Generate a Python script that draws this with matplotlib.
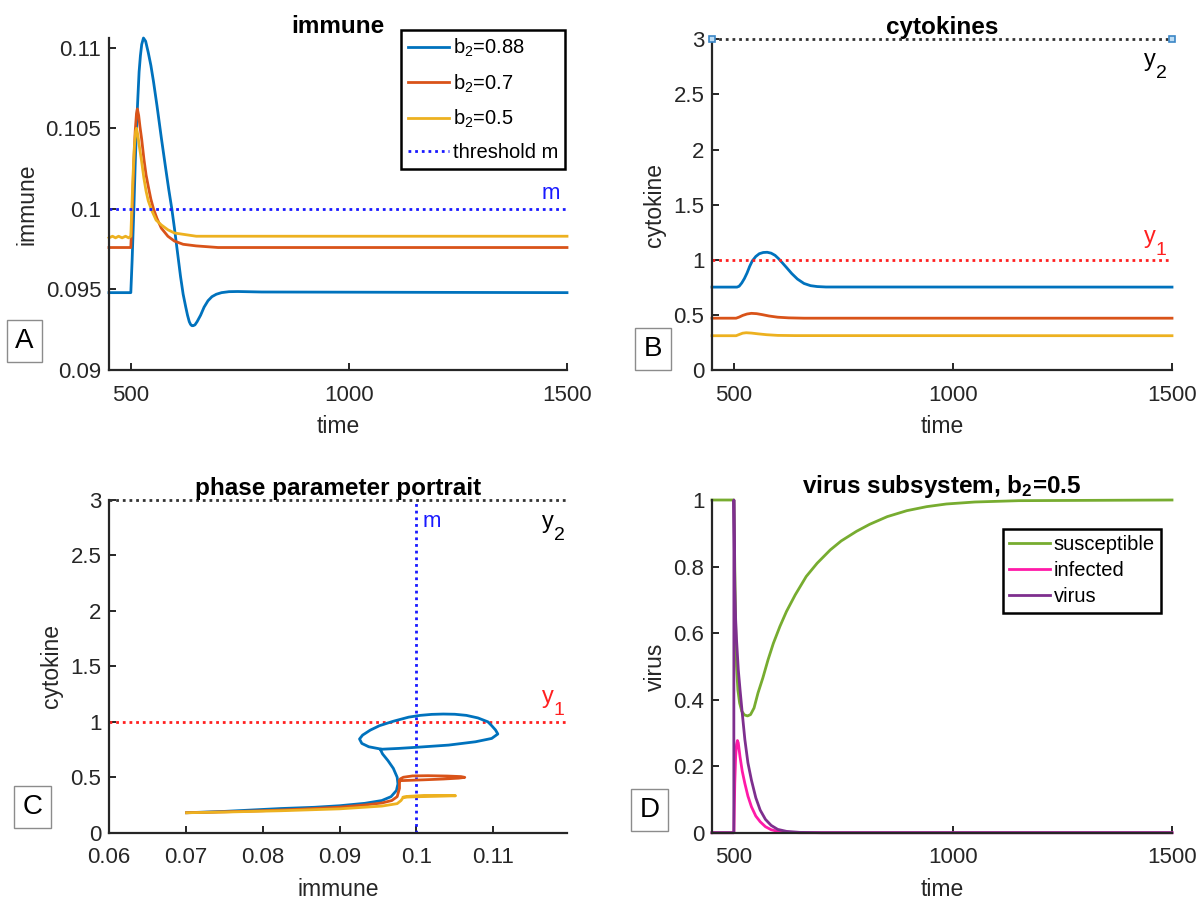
import matplotlib
matplotlib.use("Agg")
import matplotlib.pyplot as plt

plt.rcParams['font.family'] = ['Liberation Sans', 'DejaVu Sans']
plt.rcParams['mathtext.fontset'] = 'custom'
plt.rcParams['mathtext.rm'] = 'Liberation Sans'
plt.rcParams['mathtext.it'] = 'Liberation Sans:italic'
plt.rcParams['mathtext.bf'] = 'Liberation Sans:bold'

# ---------------- data ----------------
threshold_m = 0.1
y1_level = 1.0
y2_level = 3.0

series_labels = [r'b$_{\mathrm{2}}$=0.88', r'b$_{\mathrm{2}}$=0.7', r'b$_{\mathrm{2}}$=0.5']
series_colors = ['#0072BD', '#D95319', '#EDB120']

# Panel A: immune vs time
t_imm_088 = [450, 500, 503, 507, 510, 513, 516, 519, 522, 525, 529, 534, 540, 546, 552, 560, 570, 580,
             587, 594, 600, 607, 614, 620, 626, 630, 634, 637, 640, 643, 647, 652, 660, 668, 677, 686,
             696, 708, 725, 745, 800, 1500]
imm_088 = [0.0948, 0.0948, 0.0968, 0.1000, 0.1027, 0.1050, 0.1068, 0.1085, 0.1095, 0.1102, 0.1106, 0.1104,
           0.1097, 0.1089, 0.1079, 0.1064, 0.1044, 0.1025, 0.1012, 0.1000, 0.0988, 0.0973, 0.0958, 0.0947,
           0.0939, 0.0934, 0.0930, 0.09283, 0.09275, 0.09275, 0.0928, 0.0930, 0.0934, 0.0939, 0.0943,
           0.09455, 0.09470, 0.09480, 0.09486, 0.09487, 0.09484, 0.0948]

t_imm_07 = [450, 500, 502, 504, 507, 510, 513, 515, 518, 521, 525, 530, 535, 540, 546, 552, 560, 570,
            585, 600, 620, 650, 700, 1500]
imm_07 = [0.0976, 0.0976, 0.0990, 0.1005, 0.1030, 0.1048, 0.1059, 0.1062, 0.1058, 0.1051, 0.1043, 0.1031,
          0.1021, 0.1014, 0.1006, 0.1000, 0.0994, 0.0988, 0.0983, 0.0980, 0.0978, 0.0977, 0.0976, 0.0976]

t_imm_05 = [450, 458, 465, 472, 480, 488, 495, 500, 502, 505, 508, 511, 513, 516, 520, 525, 530, 535,
            540, 548, 558, 570, 585, 600, 625, 650, 700, 1500]
imm_05 = [0.0982, 0.0983, 0.0982, 0.0983, 0.0982, 0.0983, 0.0982, 0.0983, 0.0998, 0.1020, 0.1038, 0.1048,
          0.1050, 0.1046, 0.1038, 0.1029, 0.1019, 0.1011, 0.1005, 0.0999, 0.0993, 0.0990, 0.0987, 0.0985,
          0.0984, 0.0983, 0.0983, 0.0983]

# Panel B: cytokine vs time
t_cyt_088 = [450, 507, 512, 518, 524, 530, 536, 542, 550, 558, 567, 576, 585, 594, 602, 610, 620, 632,
             645, 660, 675, 690, 710, 1500]
cyt_088 = [0.752, 0.752, 0.760, 0.790, 0.830, 0.880, 0.940, 0.990, 1.030, 1.055, 1.066, 1.068, 1.060,
           1.040, 1.010, 0.975, 0.930, 0.875, 0.825, 0.785, 0.765, 0.757, 0.753, 0.752]

t_cyt_07 = [450, 505, 512, 520, 530, 540, 552, 565, 580, 600, 625, 660, 1500]
cyt_07 = [0.470, 0.470, 0.480, 0.495, 0.508, 0.514, 0.511, 0.502, 0.490, 0.479, 0.473, 0.470, 0.470]

t_cyt_05 = [450, 505, 512, 520, 528, 540, 555, 575, 600, 640, 1500]
cyt_05 = [0.311, 0.311, 0.322, 0.334, 0.338, 0.335, 0.328, 0.320, 0.314, 0.312, 0.311]

# Panel C: phase portrait (immune, cytokine)
ph_imm_088 = [0.0701, 0.0750, 0.0824, 0.0867, 0.0900, 0.0933, 0.0955, 0.0967, 0.0974, 0.0976, 0.0975,
              0.0970, 0.0963, 0.0956, 0.0953,
              0.0977, 0.1000, 0.1042, 0.1077, 0.1098, 0.1106, 0.1103, 0.1098, 0.1093, 0.1080, 0.1065,
              0.1050, 0.1035, 0.1020, 0.1005, 0.0990, 0.0970, 0.0952, 0.0940, 0.0930, 0.0926, 0.0929,
              0.0938, 0.0953]
ph_cyt_088 = [0.180, 0.192, 0.218, 0.229, 0.243, 0.265, 0.290, 0.325, 0.380, 0.440, 0.500,
              0.580, 0.650, 0.710, 0.752,
              0.760, 0.770, 0.790, 0.820, 0.850, 0.890, 0.926, 0.965, 1.000, 1.035, 1.058,
              1.068, 1.070, 1.067, 1.058, 1.042, 1.005, 0.965, 0.925, 0.880, 0.845, 0.805,
              0.775, 0.755]

ph_imm_07 = [0.0701, 0.0750, 0.0800, 0.0850, 0.0900, 0.0933, 0.0955, 0.0968, 0.0975, 0.0978, 0.0978,
             0.0978, 0.0990, 0.1010, 0.1035, 0.1055, 0.1063, 0.1058, 0.1040, 0.1015, 0.0995, 0.0983,
             0.0979, 0.0978]
ph_cyt_07 = [0.180, 0.188, 0.198, 0.212, 0.230, 0.250, 0.268, 0.290, 0.325, 0.400, 0.469,
             0.469, 0.472, 0.477, 0.484, 0.492, 0.499, 0.506, 0.511, 0.514, 0.512, 0.500,
             0.485, 0.470]

ph_imm_05 = [0.0701, 0.0750, 0.0824, 0.0900, 0.0955, 0.0975, 0.0980, 0.0983, 0.1000, 0.1030, 0.1051,
             0.1040, 0.1010, 0.0990, 0.0983]
ph_cyt_05 = [0.180, 0.186, 0.198, 0.215, 0.240, 0.262, 0.290, 0.320, 0.324, 0.329, 0.333,
             0.336, 0.336, 0.328, 0.320]

# Panel D: virus subsystem
t_sus = [450, 500, 502, 504, 506, 509, 513, 518, 524, 531, 538, 546, 555, 566, 578, 590, 605, 620, 640,
         665, 690, 720, 745, 780, 810, 850, 895, 940, 985, 1050, 1150, 1500]
susceptible = [1.0, 1.0, 0.80, 0.62, 0.50, 0.43, 0.39, 0.365, 0.354, 0.351, 0.355, 0.375, 0.420, 0.465,
               0.520, 0.569, 0.620, 0.665, 0.715, 0.770, 0.810, 0.850, 0.877, 0.906, 0.927, 0.950,
               0.968, 0.980, 0.988, 0.994, 0.998, 1.0]

t_inf = [450, 500, 502, 504, 506, 508, 510, 514, 519, 525, 532, 540, 550, 560, 572, 585, 600, 620, 650, 1500]
infected = [0.0, 0.0, 0.15, 0.23, 0.265, 0.277, 0.270, 0.228, 0.185, 0.148, 0.110, 0.078, 0.050, 0.033,
            0.018, 0.009, 0.004, 0.001, 0.0, 0.0]

t_vir = [450, 499.8, 500, 501, 502, 504, 506, 510, 514, 519, 525, 532, 540, 550, 560, 572, 585, 600,
         620, 650, 700, 1500]
virus = [0.0, 0.0, 1.0, 0.86, 0.74, 0.64, 0.58, 0.49, 0.43, 0.36, 0.28, 0.21, 0.158, 0.105, 0.068, 0.040,
         0.022, 0.010, 0.004, 0.001, 0.0, 0.0]

xticks_time = [500, 1000, 1500]
yticks_imm = [0.09, 0.095, 0.1, 0.105, 0.11]
yticklabels_imm = ['0.09', '0.095', '0.1', '0.105', '0.11']
yticks_cyt = [0, 0.5, 1, 1.5, 2, 2.5, 3]
yticklabels_cyt = ['0', '0.5', '1', '1.5', '2', '2.5', '3']
xticks_phase = [0.06, 0.07, 0.08, 0.09, 0.1, 0.11]
xticklabels_phase = ['0.06', '0.07', '0.08', '0.09', '0.1', '0.11']
yticks_vir = [0, 0.2, 0.4, 0.6, 0.8, 1]
yticklabels_vir = ['0', '0.2', '0.4', '0.6', '0.8', '1']

# ---------------- styling ----------------
W, H = 1199, 901
fig = plt.figure(figsize=(W / 100, H / 100), dpi=100)
AX_COL = '#262626'
TICK_FS = 16
LABEL_FS = 16.5
TITLE_FS = 17.5
LEG_FS = 14.5
LW = 2.0
DOT = (0, (1, 1.4))
BLUE_M = '#1a1aff'
RED_Y = '#ff2020'


def px_axes(left, right, top, bottom):
    return fig.add_axes([left / W, 1 - bottom / H, (right - left) / W, (bottom - top) / H])


def style(ax):
    for s in ['top', 'right']:
        ax.spines[s].set_visible(False)
    for s in ['left', 'bottom']:
        ax.spines[s].set_color(AX_COL)
        ax.spines[s].set_linewidth(1.6)
    ax.tick_params(direction='in', length=5, width=1.4, colors=AX_COL, labelsize=TICK_FS)
    ax.tick_params(axis='x', pad=10.5)
    ax.tick_params(axis='y', pad=5.5)


def labels(ax, xl, yl, title):
    ax.set_xlabel(xl, fontsize=LABEL_FS, color=AX_COL, labelpad=7)
    ax.set_ylabel(yl, fontsize=LABEL_FS, color=AX_COL, labelpad=5)
    ax.set_title(title, fontsize=TITLE_FS, fontweight='bold', pad=3)


def sub_text(ax, x, y, base, sub, color):
    ax.text(x, y, base, color=color, fontsize=17, ha='left', va='baseline')
    ax.annotate(sub, xy=(x, y), xycoords='data', xytext=(8.3, -8.5), textcoords='offset points',
                color=color, fontsize=14, ha='left', va='baseline')


def panel_letter(cx, cy, s):
    fig.text(cx / W, 1 - cy / H, s, fontsize=20, ha='center', va='center', color='black',
             bbox=dict(boxstyle='square,pad=0.3', fc='white', ec='#8c8c8c', lw=1.0))


# ---------------- Panel A ----------------
axA = px_axes(109, 567, 38, 370)
style(axA)
hA = []
for t, v, c, lab in [(t_imm_088, imm_088, series_colors[0], series_labels[0]),
                     (t_imm_07, imm_07, series_colors[1], series_labels[1]),
                     (t_imm_05, imm_05, series_colors[2], series_labels[2])]:
    hA.append(axA.plot(t, v, color=c, lw=LW, label=lab, clip_on=False)[0])
hm = axA.axhline(threshold_m, color=BLUE_M, lw=2.0, ls=DOT, label='threshold m')
axA.set_xlim(450, 1500)
axA.set_ylim(0.09, 0.1106)
axA.set_xticks(xticks_time)
axA.set_yticks(yticks_imm)
axA.set_yticklabels(yticklabels_imm)
labels(axA, 'time', 'immune', 'immune')
axA.text(1464, 0.10062, 'm', color=BLUE_M, fontsize=16, ha='center', va='baseline')
legA = axA.legend(handles=hA + [hm], loc='upper right', bbox_to_anchor=(0.996, 1.024),
                  borderaxespad=0, fontsize=LEG_FS, handlelength=2.0, handletextpad=0.2,
                  labelspacing=0.65, borderpad=0.35, fancybox=False, framealpha=1, edgecolor='black')
legA.get_frame().set_linewidth(1.8)
panel_letter(24.5, 341, 'A')

# ---------------- Panel B ----------------
axB = px_axes(712, 1172, 39.3, 370)
style(axB)
for t, v, c in [(t_cyt_088, cyt_088, series_colors[0]),
                (t_cyt_07, cyt_07, series_colors[1]),
                (t_cyt_05, cyt_05, series_colors[2])]:
    axB.plot(t, v, color=c, lw=LW, clip_on=False)
axB.axhline(y1_level, color=RED_Y, lw=2.0, ls=DOT)
axB.set_xlim(450, 1500)
axB.set_ylim(0, 3)
axB.plot(axB.get_xlim(), [y2_level, y2_level], color='#333333', lw=2.0, ls=DOT,
         marker='s', ms=5, mfc='#bcdcf4', mec='#3b86c6', mew=1.2, clip_on=False, zorder=5)
axB.set_xticks(xticks_time)
axB.set_yticks(yticks_cyt)
axB.set_yticklabels(yticklabels_cyt)
labels(axB, 'time', 'cytokine', 'cytokines')
sub_text(axB, 1437, 2.76, 'y', '2', 'black')
sub_text(axB, 1437, 1.15, 'y', '1', RED_Y)
panel_letter(653, 349, 'B')

# ---------------- Panel C ----------------
axC = px_axes(109, 567, 500, 832.7)
style(axC)
axC.axhline(y2_level, color='#333333', lw=2.0, ls=DOT, clip_on=False)
axC.axhline(y1_level, color=RED_Y, lw=2.0, ls=DOT)
axC.axvline(threshold_m, color=BLUE_M, lw=2.0, ls=DOT)
for x, y, c in [(ph_imm_088, ph_cyt_088, series_colors[0]),
                (ph_imm_07, ph_cyt_07, series_colors[1]),
                (ph_imm_05, ph_cyt_05, series_colors[2])]:
    axC.plot(x, y, color=c, lw=LW, clip_on=False)
axC.set_xlim(0.06, 0.1196)
axC.set_ylim(0, 3)
axC.set_xticks(xticks_phase)
axC.set_xticklabels(xticklabels_phase)
axC.set_yticks(yticks_cyt)
axC.set_yticklabels(yticklabels_cyt)
labels(axC, 'immune', 'cytokine', 'phase parameter portrait')
axC.text(0.10085, 2.757, 'm', color=BLUE_M, fontsize=16, ha='left', va='baseline')
sub_text(axC, 0.1164, 2.75, 'y', '2', 'black')
sub_text(axC, 0.1164, 1.17, 'y', '1', RED_Y)
panel_letter(32.5, 807, 'C')

# ---------------- Panel D ----------------
axD = px_axes(712, 1172, 500, 832.7)
style(axD)
hD = [axD.plot(t_sus, susceptible, color='#77AC30', lw=LW, label='susceptible', clip_on=False)[0],
      axD.plot(t_inf, infected, color='#FF1AA8', lw=LW, label='infected', clip_on=False)[0],
      axD.plot(t_vir, virus, color='#7E2F8E', lw=LW, label='virus', clip_on=False)[0]]
axD.set_xlim(450, 1500)
axD.set_ylim(0, 1)
axD.set_xticks(xticks_time)
axD.set_yticks(yticks_vir)
axD.set_yticklabels(yticklabels_vir)
labels(axD, 'time', 'virus', r'virus subsystem, b$_{\mathbf{2}}$=0.5')
legD = axD.legend(handles=hD, loc='upper right', bbox_to_anchor=(0.976, 0.913), borderaxespad=0,
                  fontsize=LEG_FS, handlelength=2.0, handletextpad=0.2, labelspacing=0.36,
                  borderpad=0.3, fancybox=False, framealpha=1, edgecolor='black')
legD.get_frame().set_linewidth(1.8)
panel_letter(649.5, 810, 'D')

fig.savefig('out.png', dpi=100)
